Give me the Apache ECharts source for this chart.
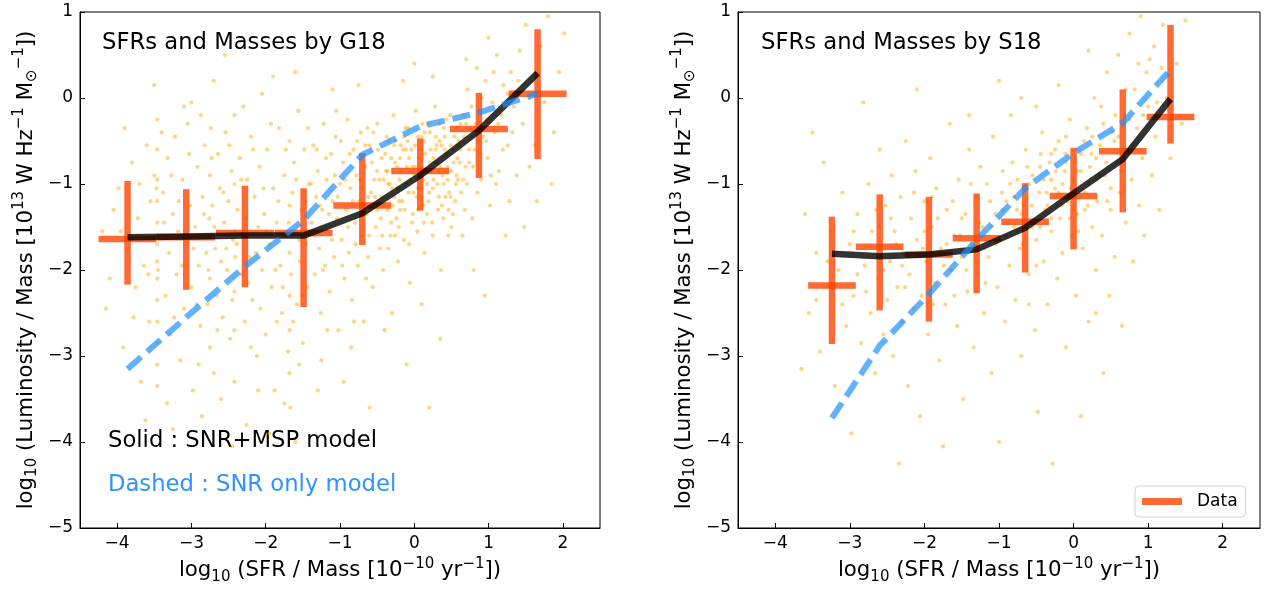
<!DOCTYPE html>
<html>
<head>
<meta charset="utf-8">
<script src="https://cdn.jsdelivr.net/npm/echarts@6/dist/echarts.min.js"></script>
<style>html,body{margin:0;padding:0;background:#fff}#c{width:1268px;height:591px}</style>
</head>
<body>
<div id="c"></div>
<script>
// ---------- data ----------
const xTickValues = [-4, -3, -2, -1, 0, 1, 2];

// G18 panel (left)
const g18BinX = [-3.86, -3.07, -2.28, -1.49, -0.70, 0.08, 0.87, 1.66];
const g18BinXErr = [0.39, 0.39, 0.39, 0.39, 0.39, 0.39, 0.39, 0.39];
const g18DataY = [-1.64, -1.62, -1.57, -1.57, -1.25, -0.85, -0.36, 0.05];
const g18DataYHigh = [-0.965, -1.06, -1.02, -1.05, -0.64, -0.47, 0.06, 0.80];
const g18DataYLow = [-2.17, -2.23, -2.20, -2.43, -1.71, -1.31, -0.93, -0.71];
const g18SolidY = [-1.62, -1.61, -1.60, -1.60, -1.34, -0.90, -0.38, 0.29];
const g18DashedY = [-3.15, -2.55, -1.96, -1.42, -0.66, -0.33, -0.17, 0.05];
const g18Points = [
[-4.15,-2.45],[-4.05,-1.3],[-3.98,-1.05],[-3.92,-2.9],[-3.85,-1.75],[-3.8,-0.75],[-3.75,-2.2],[-3.72,-1.4],[-3.68,-3.3],[-3.64,-1.95],[-3.6,-0.55],[-3.57,-2.6],[-3.55,-1.2],[-3.52,-1.65],[-3.5,-0.9],[-4.2,-1.55],[-3.9,-0.35],[-3.62,-3.75],[-4.1,-2.1],[-3.78,-2.55],
[-3.46,-0.25],[-3.46,-0.6],[-3.46,-0.95],[-3.46,-1.2],[-3.46,-1.45],[-3.46,-1.7],[-3.46,-1.9],[-3.46,-2.1],[-3.46,-2.35],[-3.46,-2.6],[-3.46,-2.85],[-3.46,-3.1],[-3.46,-3.35],[-3.47,-1.05],[-3.45,-1.6],[-3.45,-2.0],
[-3.38,-1.1],[-3.35,-2.3],[-3.32,-0.7],[-3.3,-1.8],[-3.28,-2.75],[-3.25,-1.35],[-3.22,-0.45],[-3.2,-2.05],[-3.18,-1.55],[-3.15,-3.05],[-3.12,-0.95],[-3.1,-2.45],[-3.08,-1.7],[-3.05,-0.3],[-3.02,-1.25],[-3.0,-2.2],[-2.98,-3.4],[-2.95,-1.5],[-2.92,-0.8],[-2.9,-1.95],[-2.88,-2.65],[-2.85,-1.15],[-2.82,-0.55],[-2.8,-1.8],[-2.78,-2.4],[-2.76,-1.4],[-2.75,-0.9],[-2.75,-1.6],[-2.75,-2.1],[-2.75,-2.9],[-2.74,-0.35],[-2.72,-1.25],[-2.7,-3.2],[-2.68,-1.75],[-2.66,-2.3],[-2.64,-0.65],[-2.62,-1.05],[-2.6,-1.9],[-2.58,-2.55],[-2.56,-1.45],[-2.54,-0.4],[-2.52,-2.0],[-2.5,-1.2],[-2.48,-2.8],[-2.46,-0.85],[-2.44,-1.65],[-2.42,-0.2],[-2.42,-1.0],[-2.42,-1.55],[-2.42,-2.25],[-2.42,-2.7],[-2.42,-3.3],[-2.41,-1.85],[-3.33,-3.55],[-2.86,-3.7],[-3.1,-0.1],[-2.6,-3.5],
[-2.38,-1.3],[-2.35,-0.7],[-2.32,-2.05],[-2.3,-1.6],[-2.28,-2.6],[-2.25,-0.95],[-2.22,-1.85],[-2.2,-0.45],[-2.18,-2.35],[-2.15,-1.15],[-2.12,-3.0],[-2.1,-1.5],[-2.08,-0.8],[-2.05,-2.0],[-2.02,-1.35],[-2.0,-2.75],[-1.98,-0.6],[-1.95,-1.7],[-1.92,-2.2],[-1.9,-1.05],[-1.88,-3.4],[-1.85,-1.45],[-1.82,-0.35],[-1.8,-1.95],[-1.78,-2.5],[-1.75,-0.9],[-1.72,-1.6],[-1.7,-2.95],[-1.68,-0.5],[-1.68,-1.25],[-1.68,-1.8],[-1.68,-2.3],[-1.68,-2.7],[-1.68,-3.2],[-1.67,-3.6],[-1.66,-2.05],[-1.64,-1.1],[-1.62,-0.75],[-1.6,-1.55],[-1.58,-2.4],[-1.56,-0.15],[-1.54,-1.9],[-1.52,-1.3],[-1.5,-2.85],[-1.48,-0.6],[-1.46,-1.7],[-1.44,-2.2],[-1.42,-1.0],[-2.26,-3.8],[-1.95,-3.9],[-1.6,-4.0],[-2.05,0.05],[-1.75,-3.55],[-2.45,-4.05],
[-1.38,-1.45],[-1.36,-0.55],[-1.34,-2.05],[-1.32,-1.15],[-1.3,-0.85],[-1.28,-1.75],[-1.26,-2.5],[-1.24,-1.3],[-1.22,-0.3],[-1.2,-1.95],[-1.18,-0.95],[-1.16,-1.55],[-1.14,-2.25],[-1.12,-0.65],[-1.1,-1.2],[-1.08,-1.85],[-1.06,-0.45],[-1.04,-1.4],[-1.02,-2.7],[-1.0,-1.0],[-0.98,-1.65],[-0.96,-0.75],[-0.94,-2.1],[-0.92,-1.3],[-0.9,-0.25],[-0.88,-1.8],[-0.86,-1.05],[-0.84,-2.35],[-0.82,-0.6],[-0.8,-1.45],[-0.78,-0.9],[-0.76,-1.95],[-0.74,-1.2],[-0.72,-0.4],[-0.7,-1.6],[-0.68,-2.6],[-0.66,-0.8],[-0.64,-1.35],[-0.62,-1.85],[-0.6,-0.55],[-0.58,-1.1],[-0.56,-2.2],[-0.54,-0.95],[-0.52,-1.5],[-0.5,-0.3],[-0.48,-1.25],[-0.46,-1.75],[-0.44,-0.7],[-0.42,-2.0],[-1.25,-3.05],[-0.95,-3.3],[-0.6,-3.6],[-1.1,0.1],[-0.75,0.15],[-0.85,-2.9],[-1.3,-3.4],[-0.4,-2.7],
[-0.38,-0.85],[-0.36,-1.3],[-0.34,-0.5],[-0.32,-1.6],[-0.3,-1.05],[-0.28,-0.2],[-0.26,-0.75],[-0.24,-1.4],[-0.22,-1.9],[-0.2,-0.95],[-0.18,-0.55],[-0.16,-1.2],[-0.14,-1.65],[-0.12,-0.35],[-0.1,-0.8],[-0.08,-1.1],[-0.06,-2.15],[-0.04,-0.6],[-0.02,-1.35],[0.0,-0.9],[0.02,-0.15],[0.04,-1.55],[0.06,-0.7],[0.08,-1.05],[0.1,-0.45],[0.12,-1.25],[0.14,-1.8],[0.16,-0.85],[0.18,-0.3],[0.2,-1.1],[0.22,-0.6],[0.24,-1.45],[0.26,-0.95],[0.28,-0.1],[0.3,-0.75],[0.32,-1.3],[0.34,-0.5],[0.36,-2.0],[0.38,-0.9],[0.4,-0.35],[0.42,-1.15],[0.44,-0.65],[0.46,-1.6],[0.48,-0.2],[0.5,-0.85],[0.52,-1.35],[0.54,-0.45],[0.56,-1.0],[0.58,-0.7],[-0.33,-1.0],[-0.19,-0.7],[-0.05,-0.95],[0.09,-0.6],[0.23,-0.85],[0.37,-0.55],[-0.27,-1.15],[-0.11,-0.6],[0.03,-1.15],[0.17,-1.0],[0.31,-1.0],[0.45,-0.95],[-0.15,0.2],[0.25,0.25],[-0.3,-2.5],[0.1,-2.4],[0.35,-2.8],[-0.1,-3.1],[0.2,-3.6],[0.0,0.4],
[0.6,-0.5],[0.63,-1.1],[0.66,-0.2],[0.69,-0.8],[0.72,0.1],[0.75,-0.35],[0.78,-1.4],[0.81,-0.6],[0.84,0.35],[0.87,-0.15],[0.9,-0.95],[0.93,-0.45],[0.96,0.2],[0.99,-0.7],[1.02,-1.25],[1.05,-0.05],[1.08,-0.4],[1.11,0.5],[1.14,-0.85],[1.17,-0.2],[1.2,0.15],[1.23,-1.6],[1.26,-0.55],[1.3,0.3],[1.34,-0.1],[1.38,-0.9],[0.65,-1.6],[0.8,-2.0],[0.95,-2.3],[0.7,0.45],[1.0,0.7],[0.62,-0.3],[0.74,-0.6],[0.86,-0.5],[0.98,-0.25],
[1.42,0.55],[1.46,-0.3],[1.5,0.85],[1.55,-0.8],[1.6,0.2],[1.65,-1.2],[1.7,0.6],[1.75,-0.05],[1.8,0.95],[1.88,-0.4],[1.95,0.3],[2.02,0.75],[1.48,-1.5],[1.62,-0.55],[1.85,-1.0],
[-0.57,-0.75],[-0.53,-1.15],[-0.49,-0.6],[-0.45,-1.4],[-0.41,-0.95],[-0.37,-0.45],[-0.35,-1.75],[-0.31,-0.7],[-0.29,-1.25],[-0.25,-0.5],[-0.23,-1.05],[-0.21,-1.5],[-0.17,-0.85],[-0.13,-1.3],[-0.09,-0.5],[-0.07,-1.7],[-0.03,-0.8],[-0.01,-1.1],[0.01,-0.55],[0.05,-1.3],[0.07,-0.9],[0.11,-0.3],[0.13,-1.45],[0.15,-0.65],[0.19,-1.2],[0.21,-0.4],[0.25,-1.6],[0.27,-0.75],[0.29,-0.45],[0.33,-1.15],[0.35,-0.8],[0.39,-1.4],[0.41,-0.6],[0.43,-0.25],[0.47,-1.1],[0.49,-0.55],[0.53,-0.75],[0.55,-1.2],[0.57,-0.35],[0.59,-0.95],[-0.44,-1.15],[-0.26,-1.6],[-0.08,-0.35],[0.12,-0.95],[0.3,-0.55],[0.5,-1.5],[-0.5,-0.85],[-0.2,-1.2],[0.05,-0.45],[0.4,-1.0],
[-1.39,-1.0],[-1.35,-1.6],[-1.31,-0.6],[-1.27,-1.25],[-1.23,-2.0],[-1.19,-0.7],[-1.15,-1.35],[-1.11,-1.65],[-1.07,-0.9],[-1.03,-1.15],[-0.99,-0.5],[-0.97,-1.95],[-0.93,-0.95],[-0.89,-1.5],[-0.87,-0.65],[-0.83,-1.2],[-0.79,-1.7],[-0.77,-0.5],[-0.73,-0.95],[-0.69,-1.3],[-0.65,-2.1],[-0.63,-0.35],[-0.61,-1.6],[-1.17,-2.7],[-0.81,-2.6],[-1.05,-0.15],
[-3.95,-1.55],[-3.7,-1.0],[-3.58,-2.05],[-3.4,-0.4],[-3.37,-1.45],[-3.27,-0.9],[-3.23,-2.55],[-3.17,-1.2],[-3.13,-1.95],[-3.03,-0.65],[-2.97,-1.75],[-2.93,-2.4],[-2.87,-0.2],[-2.83,-1.35],[-2.77,-2.0],[-2.73,-0.7],[-2.69,-1.5],[-2.65,-2.7],[-2.57,-1.1],[-2.53,-1.75],[-2.49,-0.55],[-2.45,-2.35],[-2.39,-1.7],[-2.33,-0.95],[-2.27,-1.4],[-2.23,-2.15],[-2.17,-0.6],[-2.13,-1.8],[-2.07,-2.45],[-2.03,-1.05],[-1.99,-1.55],[-1.93,-0.3],[-1.87,-2.0],[-1.83,-1.2],[-1.77,-2.2],[-1.73,-0.6],[-1.69,-1.45],[-1.63,-2.6],[-1.59,-0.95],[-1.55,-1.65],[-1.51,-2.3],[-1.47,-1.2],[-1.43,-0.35],[-3.0,-0.05],[-2.7,0.2],[-2.3,-0.1],[-1.9,0.25],[-3.5,0.15],[-2.55,0.5],[-1.6,0.3],[-3.25,-3.85],[-2.9,-3.1],[-2.1,-3.4],[-1.85,-2.6],[-1.55,-3.1],[-2.2,-2.9],
[0.61,-0.75],[0.67,-0.45],[0.71,-1.0],[0.77,-0.1],[0.79,-0.8],[0.83,-0.3],[0.89,-0.65],[0.91,0.0],[0.97,-0.5],[1.03,-0.9],[1.07,0.3],[1.13,-0.3],[1.19,-0.6],[1.25,0.05],[1.32,-0.4],[1.4,0.2],[0.68,-1.3],[0.85,-1.1],[1.1,-1.0],[1.28,-1.2],
[-0.7,-1.05],[-0.66,-0.55],[-0.59,-1.3],[-0.55,-0.4],[-0.47,-0.95],[-0.43,-1.6],[-0.39,-0.65],[-0.35,-1.0],[-0.31,-1.45],[-0.27,-0.55],[-0.23,-0.8],[-0.19,-1.3],[-0.15,-0.6],[-0.11,-1.0],[-0.07,-0.7],[-0.03,-1.45],[0.01,-0.8],[0.05,-1.05],[0.09,-0.85],[0.13,-0.5],[0.17,-1.35],[0.21,-0.75],[0.25,-1.05],[0.29,-0.6],[0.33,-0.85],[0.37,-1.25],[0.41,-0.45],[0.45,-0.8],[0.49,-1.15],[0.53,-0.6],[0.57,-0.9],[0.62,-0.6],[0.66,-0.95],[0.7,-0.3],[0.74,-0.75],[0.78,-0.45],[-0.5,-1.3],[-0.36,-0.85],[-0.22,-1.05],[-0.06,-0.85],[0.1,-1.15],[0.26,-0.7],[0.42,-0.85],[0.58,-0.55],[-0.62,-1.15],[0.14,-0.4],[0.34,-0.3],[-0.14,-0.45],[0.46,-1.3],[-0.4,-1.25]
];

// S18 panel (right)
const s18BinX = [-3.24, -2.60, -1.94, -1.30, -0.65, 0.00, 0.66, 1.30];
const s18BinXErr = [0.32, 0.32, 0.32, 0.32, 0.32, 0.32, 0.32, 0.32];
const s18DataY = [-2.18, -1.73, -1.82, -1.63, -1.44, -1.14, -0.62, -0.22];
const s18DataYHigh = [-1.38, -1.12, -1.15, -1.11, -0.99, -0.58, 0.10, 0.85];
const s18DataYLow = [-2.86, -2.47, -2.60, -2.27, -2.03, -1.76, -1.33, -0.53];
const s18SolidY = [-1.81, -1.84, -1.82, -1.76, -1.51, -1.11, -0.71, -0.01];
const s18DashedY = [-3.72, -2.88, -2.28, -1.65, -1.05, -0.64, -0.29, 0.33];
const s18Points = [
[-3.65,-3.15],[-3.55,-2.5],[-3.5,-0.4],[-3.45,-1.8],[-3.4,-2.95],[-3.35,-0.75],[-3.3,-2.2],[-3.25,-1.55],[-3.2,-3.35],[-3.15,-2.0],[-3.1,-1.1],[-3.05,-2.65],[-3.0,-1.7],[-2.98,-3.9],[-2.95,-2.3],[-2.9,-1.35],[-2.85,-2.85],[-2.82,-0.05],[-2.8,-1.95],[-2.75,-1.0],[-2.72,-2.5],[-2.7,-1.55],[-2.66,-3.2],[-2.62,-2.1],[-2.6,-0.6],[-2.58,-1.75],[-2.55,-2.75],[-2.52,-1.25],[-2.5,-2.35],[-2.46,-1.9],[-2.44,-0.9],[-2.42,-3.0],[-2.4,-1.55],[-2.36,-2.2],[-2.34,-4.25],[-2.32,-1.15],[-2.3,-2.6],[-2.28,-1.8],[-2.25,-0.5],[-2.22,-3.35],[-2.2,-2.05],[-2.18,-1.4],[-2.15,-2.45],[-2.12,-0.85],[-2.1,-1.65],[-2.06,-3.7],[-2.04,-2.3],[-2.0,-1.2],[-1.98,-1.9],[-1.95,-2.75],[-1.92,-0.7],[-1.9,-1.5],[-1.86,-2.15],[-1.84,-1.05],[-1.8,-3.05],[-1.78,-1.75],[-1.75,-4.05],[-1.72,-2.4],[-1.7,-1.3],[-1.66,-0.3],[-1.64,-2.0],[-1.6,-1.6],[-1.56,-2.65],[-1.54,-0.95],[-1.5,-1.85],[-1.48,-3.5],[-1.45,-1.35],[-1.42,-2.25],[-1.4,-0.6],[-1.36,-1.7],[-1.34,-2.9],[-1.3,-1.15],[-1.28,-2.05],[-1.25,-0.8],[-1.22,-1.5],[-1.2,-2.5],[-1.16,-1.0],[-1.14,-1.85],[-1.1,-3.2],[-1.08,-0.45],[-1.05,-1.35],[-1.02,-2.2],[-1.0,-4.0],[-0.98,-1.65],[-0.95,-0.85],[-0.92,-2.6],[-0.9,-1.2],[-0.86,-1.95],[-0.84,-0.2],[-0.8,-1.5],[-0.78,-2.35],[-0.75,-0.95],[-0.72,-1.75],[-0.7,-3.0],[-0.66,-1.25],[-0.64,-0.6],[-0.6,-2.05],[-0.58,-1.45],[-0.55,-0.9],[-0.52,-2.7],[-0.5,-1.65],[-0.48,-3.65],[-0.46,-1.1],[-0.42,-0.4],[-0.4,-1.9],[-0.38,-1.3],[-0.35,-2.4],[-0.32,-0.75],[-0.3,-1.55],[-0.28,-4.25],[-0.25,-1.05],[-0.22,-2.1],[-0.2,-0.5],[-0.18,-1.4],[-0.15,-1.8],[-0.12,-0.85],[-0.1,-2.9],[-0.08,-1.2],[-0.05,-0.25],[-0.02,-1.6],[0.0,-0.95],[0.03,-2.3],[0.05,-1.35],[0.08,-0.6],[0.1,-3.7],[0.12,-1.75],[0.15,-1.1],[0.18,-0.35],[0.2,-2.6],[0.22,-0.8],[0.25,-1.5],[0.28,0.0],[0.3,-2.0],[0.32,-1.2],[0.35,-0.55],[0.38,-1.6],[0.4,-3.2],[0.42,-0.9],[0.45,0.3],[0.48,-2.3],[0.5,-1.3],[0.52,-0.4],[0.55,-1.85],[0.58,-0.75],[0.6,0.5],[0.62,-1.1],[0.65,-2.65],[0.68,-0.2],[0.7,-1.45],[0.72,-0.6],[0.75,0.75],[0.78,-0.95],[0.8,-1.9],[0.82,0.1],[0.85,-0.35],[0.88,-1.25],[0.9,0.95],[0.92,-0.7],[0.95,-1.6],[0.98,0.3],[1.0,-0.1],[1.05,-0.9],[1.08,0.6],[1.1,-0.45],[1.15,-1.3],[1.2,0.85],[1.25,0.0],[1.3,-0.7],[1.38,0.4],[1.45,-0.3],[1.5,0.9],[-0.5,-0.1],[-1.0,0.2],[-2.1,0.1],[-3.6,-1.35],[-0.3,-0.65],[-0.1,-0.45],[0.1,-0.85],[-0.6,-1.0],[-0.2,-1.1],[0.0,-1.3],[-0.4,-0.95],[-0.7,-1.35],[0.2,-1.0],[0.4,-0.3],[-3.45,-2.35],[-2.9,-2.05],[-2.45,-1.4],[-1.9,-1.15],[-1.6,-2.3],[-1.2,-1.75],[-0.9,-1.6],[0.6,-0.45],[0.75,-0.25],
[-3.3,-1.9],[-3.1,-2.4],[-2.95,-1.55],[-2.78,-2.25],[-2.65,-1.3],[-2.55,-2.0],[-2.38,-1.7],[-2.26,-2.2],[-2.14,-1.1],[-2.02,-1.75],[-1.88,-2.4],[-1.82,-1.4],[-1.74,-1.95],[-1.62,-1.2],[-1.52,-1.6],[-1.44,-2.0],[-1.38,-1.0],[-1.26,-1.45],[-1.18,-2.15],[-1.12,-1.2],[-1.04,-1.7],[-0.96,-1.1],[-0.88,-1.45],[-0.82,-0.75],[-0.76,-1.3],[-0.68,-1.7],[-0.62,-0.8],[-0.56,-1.25],[-0.5,-1.95],[-0.44,-0.65],[-0.36,-1.1],[-0.3,-1.4],[-0.24,-0.85],[-0.16,-1.25],[-0.11,-0.65],[-0.04,-1.05],[0.02,-0.75],[0.06,-1.55],[0.14,-0.5],[0.19,-1.25],[0.24,-0.65],[0.31,-0.95],[0.37,-0.1],[0.44,-0.75],[0.5,-1.05],[0.56,-0.2],[0.64,-0.85],[0.7,0.1],[0.79,-0.55],[0.87,0.4],[0.93,-0.2],[1.02,0.45],[1.12,-0.05],[1.18,0.35],[-0.7,0.0],[-0.2,0.15],[0.2,0.55],[-1.4,-0.2],[0.3,-2.5],[-0.6,-2.4],
[-0.95,-1.3],[-0.85,-1.0],[-0.75,-1.55],[-0.65,-1.05],[-0.55,-1.5],[-0.45,-0.8],[-0.35,-1.25],[-0.25,-0.6],[-0.15,-1.0],[-0.05,-1.4],[0.05,-0.85],[0.15,-1.3],[0.25,-0.45],[0.35,-0.9],[0.45,-1.2],[0.55,-0.5],[-0.45,-1.5],[-0.3,-0.95],[-0.1,-0.75],[0.1,-0.65],[0.3,-0.7],[-1.3,-1.9],[-1.5,-1.4],[-1.7,-1.7],[-2.0,-1.55],[-2.3,-1.95],[-2.6,-1.5],[-2.8,-1.75],[-1.1,-1.5],[-0.8,-1.15]
];

// ---------- styling ----------
const FONT = 'DejaVu Sans';
const ERR_COLOR = 'rgba(255,69,0,0.8)';
const SOLID_COLOR = 'rgba(0,0,0,0.8)';
const DASH_COLOR = 'rgba(30,144,255,0.7)';
const PT_COLOR = 'rgba(255,165,0,0.6)';

const nameRich = {
  sub: { fontSize: 15, fontFamily: FONT, color: '#000', verticalAlign: 'bottom', lineHeight: 16 },
  sup: { fontSize: 15, fontFamily: FONT, color: '#000', verticalAlign: 'top', lineHeight: 16 }
};
const xName = 'log{sub|10} (SFR / Mass [10{sup|−10} yr{sup|−1}])';
const yName = 'log{sub|10} (Luminosity / Mass [10{sup|13} W Hz{sup|−1} M{sub|⊙}{sup|−1}])';

function fmtTick(v) { return String(v).replace('-', '−'); }

function makeX(gridIndex) {
  return {
    type: 'value', gridIndex, min: -4.5, max: 2.5,
    name: xName, nameLocation: 'middle', nameGap: 27,
    nameTextStyle: { fontFamily: FONT, fontSize: 21.3, color: '#000', lineHeight: 28, rich: nameRich },
    axisLine: { show: true, onZero: false, lineStyle: { color: '#000', width: 1 } },
    axisTick: { show: true, inside: true, length: 5, customValues: xTickValues, lineStyle: { color: '#000' } },
    axisLabel: { customValues: xTickValues, formatter: fmtTick, fontFamily: FONT, fontSize: 17, color: '#000', margin: 7 },
    splitLine: { show: false }
  };
}
function makeY(gridIndex) {
  return {
    type: 'value', gridIndex, min: -5, max: 1, interval: 1,
    name: yName, nameLocation: 'middle', nameGap: 40,
    nameTextStyle: { fontFamily: FONT, fontSize: 21.3, color: '#000', lineHeight: 28, rich: nameRich },
    axisLine: { show: true, onZero: false, lineStyle: { color: '#000', width: 1 } },
    axisTick: { show: true, inside: true, length: 5, lineStyle: { color: '#000' } },
    axisLabel: { formatter: fmtTick, fontFamily: FONT, fontSize: 17, color: '#000', margin: 7 },
    splitLine: { show: false }
  };
}

function errRender(params, api) {
  const x = api.value(0), y = api.value(1);
  const xl = api.value(2), xh = api.value(3), yl = api.value(4), yh = api.value(5);
  const a = api.coord([xl, y]), b = api.coord([xh, y]);
  const c = api.coord([x, yl]), d = api.coord([x, yh]);
  const st = { stroke: ERR_COLOR, lineWidth: 6.5, fill: null };
  return {
    type: 'group',
    children: [
      { type: 'line', shape: { x1: a[0], y1: a[1], x2: b[0], y2: b[1] }, style: st },
      { type: 'line', shape: { x1: c[0], y1: c[1], x2: d[0], y2: d[1] }, style: st }
    ]
  };
}

function panelSeries(idx, binX, binXErr, dY, dYL, dYH, solidY, dashedY, pts) {
  const errData = binX.map((x, i) => [x, dY[i], x - binXErr[i], x + binXErr[i], dYL[i], dYH[i]]);
  return [
    { type: 'scatter', xAxisIndex: idx, yAxisIndex: idx, data: pts, symbol: 'circle', symbolSize: 4.2,
      itemStyle: { color: PT_COLOR }, silent: true, z: 1, animation: false, large: false },
    { type: 'custom', name: 'Data', xAxisIndex: idx, yAxisIndex: idx, data: errData, renderItem: errRender,
      itemStyle: { color: ERR_COLOR }, encode: { x: [0, 2, 3], y: [1, 4, 5] }, silent: true, z: 2, animation: false },
    { type: 'line', xAxisIndex: idx, yAxisIndex: idx, data: binX.map((x, i) => [x, solidY[i]]),
      showSymbol: false, symbol: 'none', lineStyle: { color: SOLID_COLOR, width: 6.5, cap: 'butt' }, silent: true, z: 3, animation: false },
    { type: 'line', xAxisIndex: idx, yAxisIndex: idx, data: binX.map((x, i) => [x, dashedY[i]]),
      showSymbol: false, symbol: 'none', lineStyle: { color: DASH_COLOR, width: 6, type: [18, 8], cap: 'butt' }, silent: true, z: 4, animation: false }
  ];
}

const option = {
  backgroundColor: '#fff',
  animation: false,
  grid: [
    { left: 80, top: 12, width: 520, height: 516, show: true, borderColor: '#000', borderWidth: 1, backgroundColor: 'transparent' },
    { left: 738, top: 12, width: 522, height: 516, show: true, borderColor: '#000', borderWidth: 1, backgroundColor: 'transparent' }
  ],
  xAxis: [makeX(0), makeX(1)],
  yAxis: [makeY(0), makeY(1)],
  legend: {
    data: [{ name: 'Data', icon: 'rect', itemStyle: { color: ERR_COLOR } }],
    left: 1135, top: 486, itemWidth: 40, itemHeight: 7,
    backgroundColor: '#fff', borderColor: '#d4d4d4', borderWidth: 1, borderRadius: 4,
    padding: [7, 8, 7, 7], selectedMode: false,
    textStyle: { fontFamily: FONT, fontSize: 17, color: '#000', padding: [0, 0, 0, 10] }
  },
  graphic: [
    { type: 'text', left: 102, top: 32, style: { text: 'SFRs and Masses by G18', font: '22.7px "DejaVu Sans"', fill: '#000' } },
    { type: 'text', left: 761, top: 32, style: { text: 'SFRs and Masses by S18', font: '22.7px "DejaVu Sans"', fill: '#000' } },
    { type: 'text', left: 108, top: 430, style: { text: 'Solid : SNR+MSP model', font: '22.7px "DejaVu Sans"', fill: '#000' } },
    { type: 'text', left: 108, top: 474, style: { text: 'Dashed : SNR only model', font: '22.7px "DejaVu Sans"', fill: '#2e93ff' } }
  ],
  series: [
    ...panelSeries(0, g18BinX, g18BinXErr, g18DataY, g18DataYLow, g18DataYHigh, g18SolidY, g18DashedY, g18Points),
    ...panelSeries(1, s18BinX, s18BinXErr, s18DataY, s18DataYLow, s18DataYHigh, s18SolidY, s18DashedY, s18Points)
  ]
};

const chart = echarts.init(document.getElementById('c'), null, { renderer: 'canvas' });
chart.setOption(option);
</script>
</body>
</html>
